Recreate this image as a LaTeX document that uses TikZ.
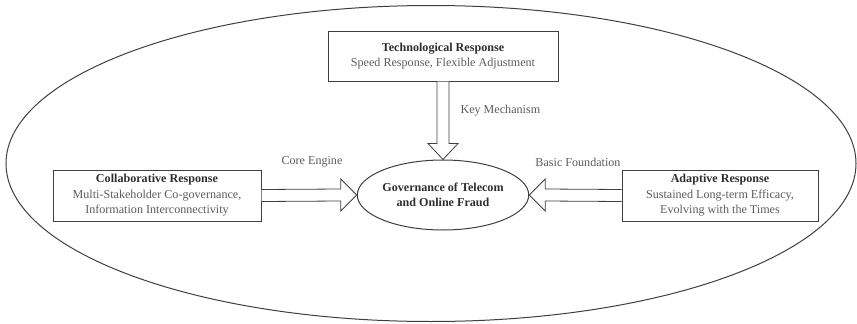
\documentclass[tikz,border=0pt]{standalone}
\usepackage{fontspec}
\setmainfont{Liberation Serif}
\usetikzlibrary{arrows.meta}
\usetikzlibrary{calc}
\usetikzlibrary{shapes.geometric}
\definecolor{linegray}{HTML}{3F3F3F}
\definecolor{textgray}{HTML}{5C5C5C}
\definecolor{headgray}{HTML}{2E2E2E}
\newcommand{\hd}[1]{\textbf{\textcolor{headgray}{#1}}}

\begin{document}
\begin{tikzpicture}[x=1pt,y=-1pt,
		respbox/.style = {draw=linegray, line width=1pt, rectangle, align=center, inner sep=0pt, text=textgray, font=\fontsize{12.1}{15.5}\selectfont},
		hollow/.style = {draw=linegray, line width=0.8pt, fill=white, line join=miter},
		lbl/.style = {text=textgray, font=\fontsize{12.1}{14}\selectfont}]
					\useasboundingbox (0,0) rectangle (857,324);
					\draw[linegray, line width=1pt] (431,163.5) ellipse [x radius=425, y radius=158];
					\begin{scope}[every node/.style={respbox}]
						\node[minimum width=230, minimum height=50] (tech) at (443,56) {\hd{Technological Response}\\Speed Response, Flexible Adjustment};
						\node[minimum width=208, minimum height=51] (colla) at (157,195.5) {\hd{Collaborative Response}\\Multi-Stakeholder Co-governance,\\Information Interconnectivity};
						\node[minimum width=196, minimum height=51] (adapt) at (720,195.5) {\hd{Adaptive Response}\\Sustained Long-term Efficacy,\\Evolving with the Times};
					\end{scope}
					\node[ellipse, draw=linegray, line width=1pt, minimum width=160, minimum height=70, inner sep=0pt, align=center, font=\fontsize{12.1}{15.5}\selectfont] (gov) at (443,195) {\hd{Governance of Telecom}\\\hd{and Online Fraud}};
					\draw[hollow] ($(tech.south)+(-6,0)$) -- ($(gov.north)+(-6,-16)$) -- ($(gov.north)+(-15,-16)$) -- (gov.north) -- ($(gov.north)+(15,-16)$) -- ($(gov.north)+(6,-16)$) -- ($(tech.south)+(6,0)$);
					\draw[hollow] ($(colla.east)+(0,-6)$) -- ($(gov.west)+(-16,-6)$) -- ($(gov.west)+(-16,-16)$) -- (gov.west) -- ($(gov.west)+(-16,16)$) -- ($(gov.west)+(-16,6)$) -- ($(colla.east)+(0,6)$);
					\draw[hollow] ($(adapt.west)+(0,-6)$) -- ($(gov.east)+(16,-6)$) -- ($(gov.east)+(16,-16)$) -- (gov.east) -- ($(gov.east)+(16,16)$) -- ($(gov.east)+(16,6)$) -- ($(adapt.west)+(0,6)$);
					\node[lbl] (keylbl) at (457,111) [anchor=west] {Key Mechanism};
					\node[lbl] (corelbl) at (312,162) {Core Engine};
					\node[lbl] (baselbl) at (578,162) {Basic Foundation};
				\end{tikzpicture}
\end{document}
